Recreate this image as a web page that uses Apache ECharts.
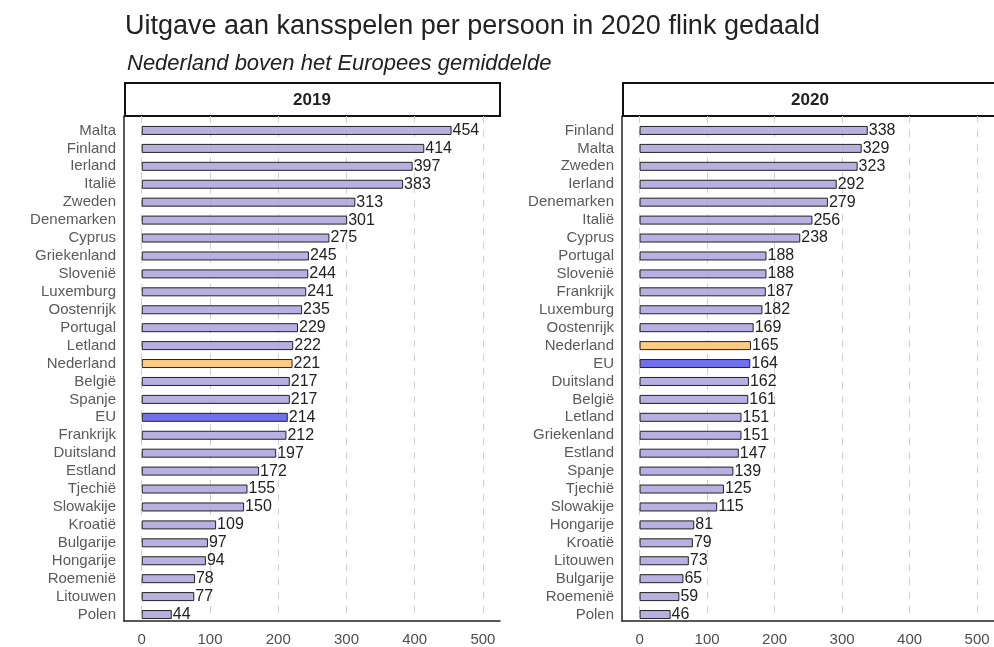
<!DOCTYPE html>
<html>
<head>
<meta charset="utf-8">
<script src="https://cdn.jsdelivr.net/npm/echarts@6/dist/echarts.min.js"></script>
<style>html,body{margin:0;padding:0;background:#fff}#c{width:994px;height:647px}</style>
</head>
<body>
<div id="c"></div>
<script>
var titleText = 'Uitgave aan kansspelen per persoon in 2020 flink gedaald';
var subtitleText = 'Nederland boven het Europees gemiddelde';
var panelYears = ['2019', '2020'];
var cats2019 = ['Malta','Finland','Ierland','Italië','Zweden','Denemarken','Cyprus','Griekenland','Slovenië','Luxemburg','Oostenrijk','Portugal','Letland','Nederland','België','Spanje','EU','Frankrijk','Duitsland','Estland','Tjechië','Slowakije','Kroatië','Bulgarije','Hongarije','Roemenië','Litouwen','Polen'];
var vals2019 = [454,414,397,383,313,301,275,245,244,241,235,229,222,221,217,217,214,212,197,172,155,150,109,97,94,78,77,44];
var cats2020 = ['Finland','Malta','Zweden','Ierland','Denemarken','Italië','Cyprus','Portugal','Slovenië','Frankrijk','Luxemburg','Oostenrijk','Nederland','EU','Duitsland','België','Letland','Griekenland','Estland','Spanje','Tjechië','Slowakije','Hongarije','Kroatië','Litouwen','Bulgarije','Roemenië','Polen'];
var vals2020 = [338,329,323,292,279,256,238,188,188,187,182,169,165,164,162,161,151,151,147,139,125,115,81,79,73,65,59,46];
var xTicks = [0,100,200,300,400,500];

var FONT = '"Liberation Sans", Arial, sans-serif';
var colNormal = 'rgba(170,162,218,0.85)';
var colNL = 'rgba(253,200,120,0.92)';
var colEU = 'rgba(100,100,238,0.92)';

var panels = [
  {left: 124, width: 376, cats: cats2019, vals: vals2019},
  {left: 622, width: 376, cats: cats2020, vals: vals2020}
];

var grids = [], xAxes = [], yAxes = [], series = [], graphics = [];
panels.forEach(function (p, i) {
  grids.push({left: p.left, top: 116, width: p.width, height: 509, containLabel: false});
  grids.push({left: p.left, top: 121.5, width: p.width, height: 502, containLabel: false});
  var fg = i * 2, bg = i * 2 + 1;
  xAxes.push({
    gridIndex: fg, type: 'value', min: -26, max: 525,
    axisLine: {show: true, onZero: false, lineStyle: {color: '#222', width: 1.5}},
    axisTick: {show: false, customValues: xTicks},
    axisLabel: {customValues: xTicks, color: '#4d4d4d', fontSize: 15, fontFamily: FONT, margin: 11},
    splitLine: {show: true, lineStyle: {color: '#d0d0d0', type: [7, 7], width: 1}}
  });
  yAxes.push({
    gridIndex: fg, type: 'value', min: 0, max: 1,
    axisLine: {show: true, onZero: false, lineStyle: {color: '#222', width: 1.5}},
    axisTick: {show: false}, axisLabel: {show: false}, splitLine: {show: false}
  });
  xAxes.push({gridIndex: bg, type: 'value', min: -26, max: 525, show: false});
  yAxes.push({
    gridIndex: bg, type: 'category', inverse: true, data: p.cats,
    axisLine: {show: false, onZero: false}, axisTick: {show: false},
    axisLabel: {color: '#5a5a5a', fontSize: 15, fontFamily: FONT, margin: 8, interval: 0},
    splitLine: {show: false}
  });
  series.push({
    type: 'bar', xAxisIndex: bg, yAxisIndex: bg,
    data: p.vals, barWidth: 9,
    itemStyle: {
      borderColor: '#222', borderWidth: 1,
      color: function (params) {
        if (params.name === 'Nederland') return colNL;
        if (params.name === 'EU') return colEU;
        return colNormal;
      }
    },
    label: {show: true, position: 'right', distance: 1, color: '#222', fontSize: 16, fontFamily: FONT},
    z: 3
  });
  graphics.push({
    type: 'rect', shape: {x: p.left + 1, y: 83, width: p.width - 1, height: 33},
    style: {fill: '#fff', stroke: '#111', lineWidth: 2}
  });
  graphics.push({
    type: 'text', x: p.left + 188, y: 100.5,
    style: {text: panelYears[i], font: 'bold 17px ' + FONT, fill: '#222', textAlign: 'center', textVerticalAlign: 'middle'}
  });
});

var chart = echarts.init(document.getElementById('c'));
chart.setOption({
  backgroundColor: '#fff',
  animation: false,
  title: [
    {text: titleText, left: 120, top: 8, textStyle: {fontFamily: FONT, fontSize: 27, fontWeight: 'normal', color: '#222'}},
    {text: subtitleText, left: 122, top: 48, textStyle: {fontFamily: FONT, fontSize: 22, fontStyle: 'italic', fontWeight: 'normal', color: '#222'}}
  ],
  grid: grids,
  xAxis: xAxes,
  yAxis: yAxes,
  series: series,
  graphic: graphics
});
</script>
</body>
</html>
